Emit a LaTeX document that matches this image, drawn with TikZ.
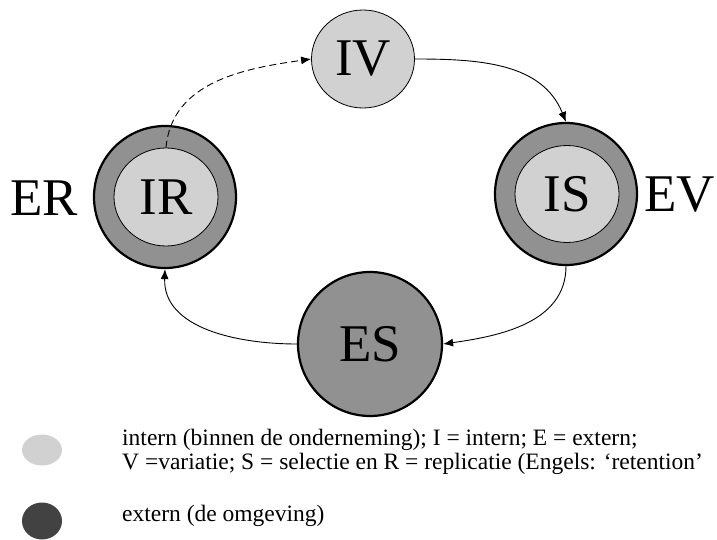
\documentclass[tikz,border=0pt]{standalone}
\usepackage{fontspec}
\setmainfont{Liberation Serif}
\usetikzlibrary{arrows.meta,shapes.geometric}
\definecolor{lightc}{gray}{0.82}
\definecolor{ringc}{gray}{0.57}
\definecolor{darkc}{gray}{0.26}
\begin{document}
\begin{tikzpicture}[x=1pt,y=-1pt,
  big/.style={font=\fontsize{53}{53}\selectfont},
  innerc/.style={ellipse, draw, line width=0.8pt, fill=lightc, inner sep=0pt, big},
  outerc/.style={circle, draw, line width=2.2pt, fill=ringc, inner sep=0pt, minimum size=142pt},
  flow/.style={line width=0.9pt, -{Latex[length=10pt,width=8pt]}},
  legtext/.style={font=\fontsize{23.5}{24.5}\selectfont, anchor=west, align=left, inner sep=0pt}
]
\useasboundingbox (0,0) rectangle (717,540);
% IV
\node[innerc, minimum width=103pt, minimum height=98pt] (IV) at (363,59) {IV};
% IR
\node[outerc] (IRo) at (165,197) {};
\node[innerc, minimum width=104pt, minimum height=98pt] (IRi) at (166,197) {IR};
% IS
\node[outerc] (ISo) at (566,194) {};
\node[innerc, minimum width=104pt, minimum height=97pt] (ISi) at (567,194) {IS};
% ES
\node[circle, draw, line width=2.2pt, fill=ringc, inner sep=0pt, minimum size=144pt, big] (ES) at (370,344) {ES};
% side labels
\node[big, inner sep=0pt] (ER) at (44,198) {ER};
\node[big, inner sep=0pt, anchor=east] (EV) at (715,195) {EV};
% connectors
\draw[flow, dashed, dash pattern=on 7pt off 4pt] (IRi.north) to[out=85, in=188] (IV.west);
\draw[flow] (IV.east) to[out=0, in=112] (ISo.north);
\draw[flow] (ISo.south) to[out=-90, in=8] (ES.east);
\draw[flow] (ES.west) to[out=180, in=-92] (IRo.south);
% legend
\node[ellipse, fill=lightc, minimum width=40pt, minimum height=31pt, inner sep=0pt] (L1) at (42,450) {};
\node[ellipse, fill=darkc, minimum width=40pt, minimum height=37pt, inner sep=0pt] (L2) at (42,521) {};
\node[legtext] (T1) at (122,452) {intern (binnen de onderneming); I = intern; E = extern;\\V =variatie; S = selectie en R = replicatie (Engels: ‘retention’};
\node[legtext] (T2) at (122,516) {extern (de omgeving)};
\end{tikzpicture}
\end{document}
